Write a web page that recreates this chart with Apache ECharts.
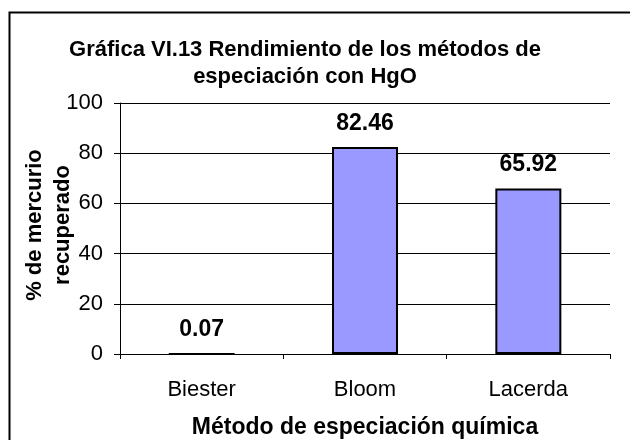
<!DOCTYPE html>
<html>
<head>
<meta charset="utf-8">
<script src="https://cdn.jsdelivr.net/npm/echarts@6/dist/echarts.min.js"></script>
<style>
  html, body { margin: 0; padding: 0; background: #fff; }
  #chart { width: 630px; height: 440px; }
</style>
</head>
<body>
<div id="chart"></div>
<script>
// datos
var metodos = ['Biester', 'Bloom', 'Lacerda'];
var rendimiento = [0.07, 82.46, 65.92];
var ticksY = [0, 20, 40, 60, 80, 100];

var fuente = '"Liberation Sans", Arial, sans-serif';
var chart = echarts.init(document.getElementById('chart'));

var option = {
  animation: false,
  backgroundColor: '#fff',
  textStyle: { fontFamily: fuente },
  title: {
    text: 'Gráfica VI.13 Rendimiento de los métodos de\nespeciación con HgO',
    left: 300,
    top: 31,
    textAlign: 'center',
    textStyle: { fontFamily: fuente, fontSize: 22, fontWeight: 'bold', color: '#000', lineHeight: 27 }
  },
  graphic: [{
    type: 'rect',
    shape: { x: 9.5, y: 12.5, width: 640, height: 440 },
    style: { fill: 'none', stroke: '#000', lineWidth: 2 },
    silent: true
  }, {
    type: 'text',
    x: 49,
    y: 225,
    rotation: Math.PI / 2,
    style: {
      text: '% de mercurio\nrecuperado',
      font: 'bold 22px ' + fuente,
      fill: '#000',
      align: 'center',
      verticalAlign: 'middle',
      lineHeight: 28
    }
  }],
  grid: { left: 120, right: 20, top: 103, bottom: 86, containLabel: false, outerBoundsMode: 'none' },
  xAxis: {
    type: 'category',
    data: metodos,
    name: 'Método de especiación química',
    nameLocation: 'middle',
    nameGap: 62,
    nameTextStyle: { fontFamily: fuente, fontSize: 23, fontWeight: 'bold', color: '#000' },
    axisLine: { lineStyle: { color: '#000', width: 1 } },
    axisTick: { show: true, alignWithLabel: false, length: 5, lineStyle: { color: '#000' } },
    axisLabel: { fontFamily: fuente, fontSize: 22, color: '#000', margin: 25 }
  },
  yAxis: {
    type: 'value',
    min: ticksY[0],
    max: ticksY[ticksY.length - 1],
    interval: 20,
    axisLine: { show: true, lineStyle: { color: '#000' } },
    axisTick: { show: true, inside: false, length: 6, lineStyle: { color: '#000' } },
    axisLabel: { fontFamily: fuente, fontSize: 22, color: '#000', margin: 17 },
    splitLine: { show: true, lineStyle: { color: '#000', width: 1 } }
  },
  series: [{
    type: 'bar',
    data: rendimiento,
    barWidth: 66,
    itemStyle: { color: '#9999ff', borderColor: '#000', borderWidth: 2 },
    label: {
      show: true,
      position: 'top',
      distance: 12,
      fontFamily: fuente,
      fontSize: 23,
      fontWeight: 'bold',
      color: '#000'
    }
  }]
};

chart.setOption(option);
</script>
</body>
</html>
